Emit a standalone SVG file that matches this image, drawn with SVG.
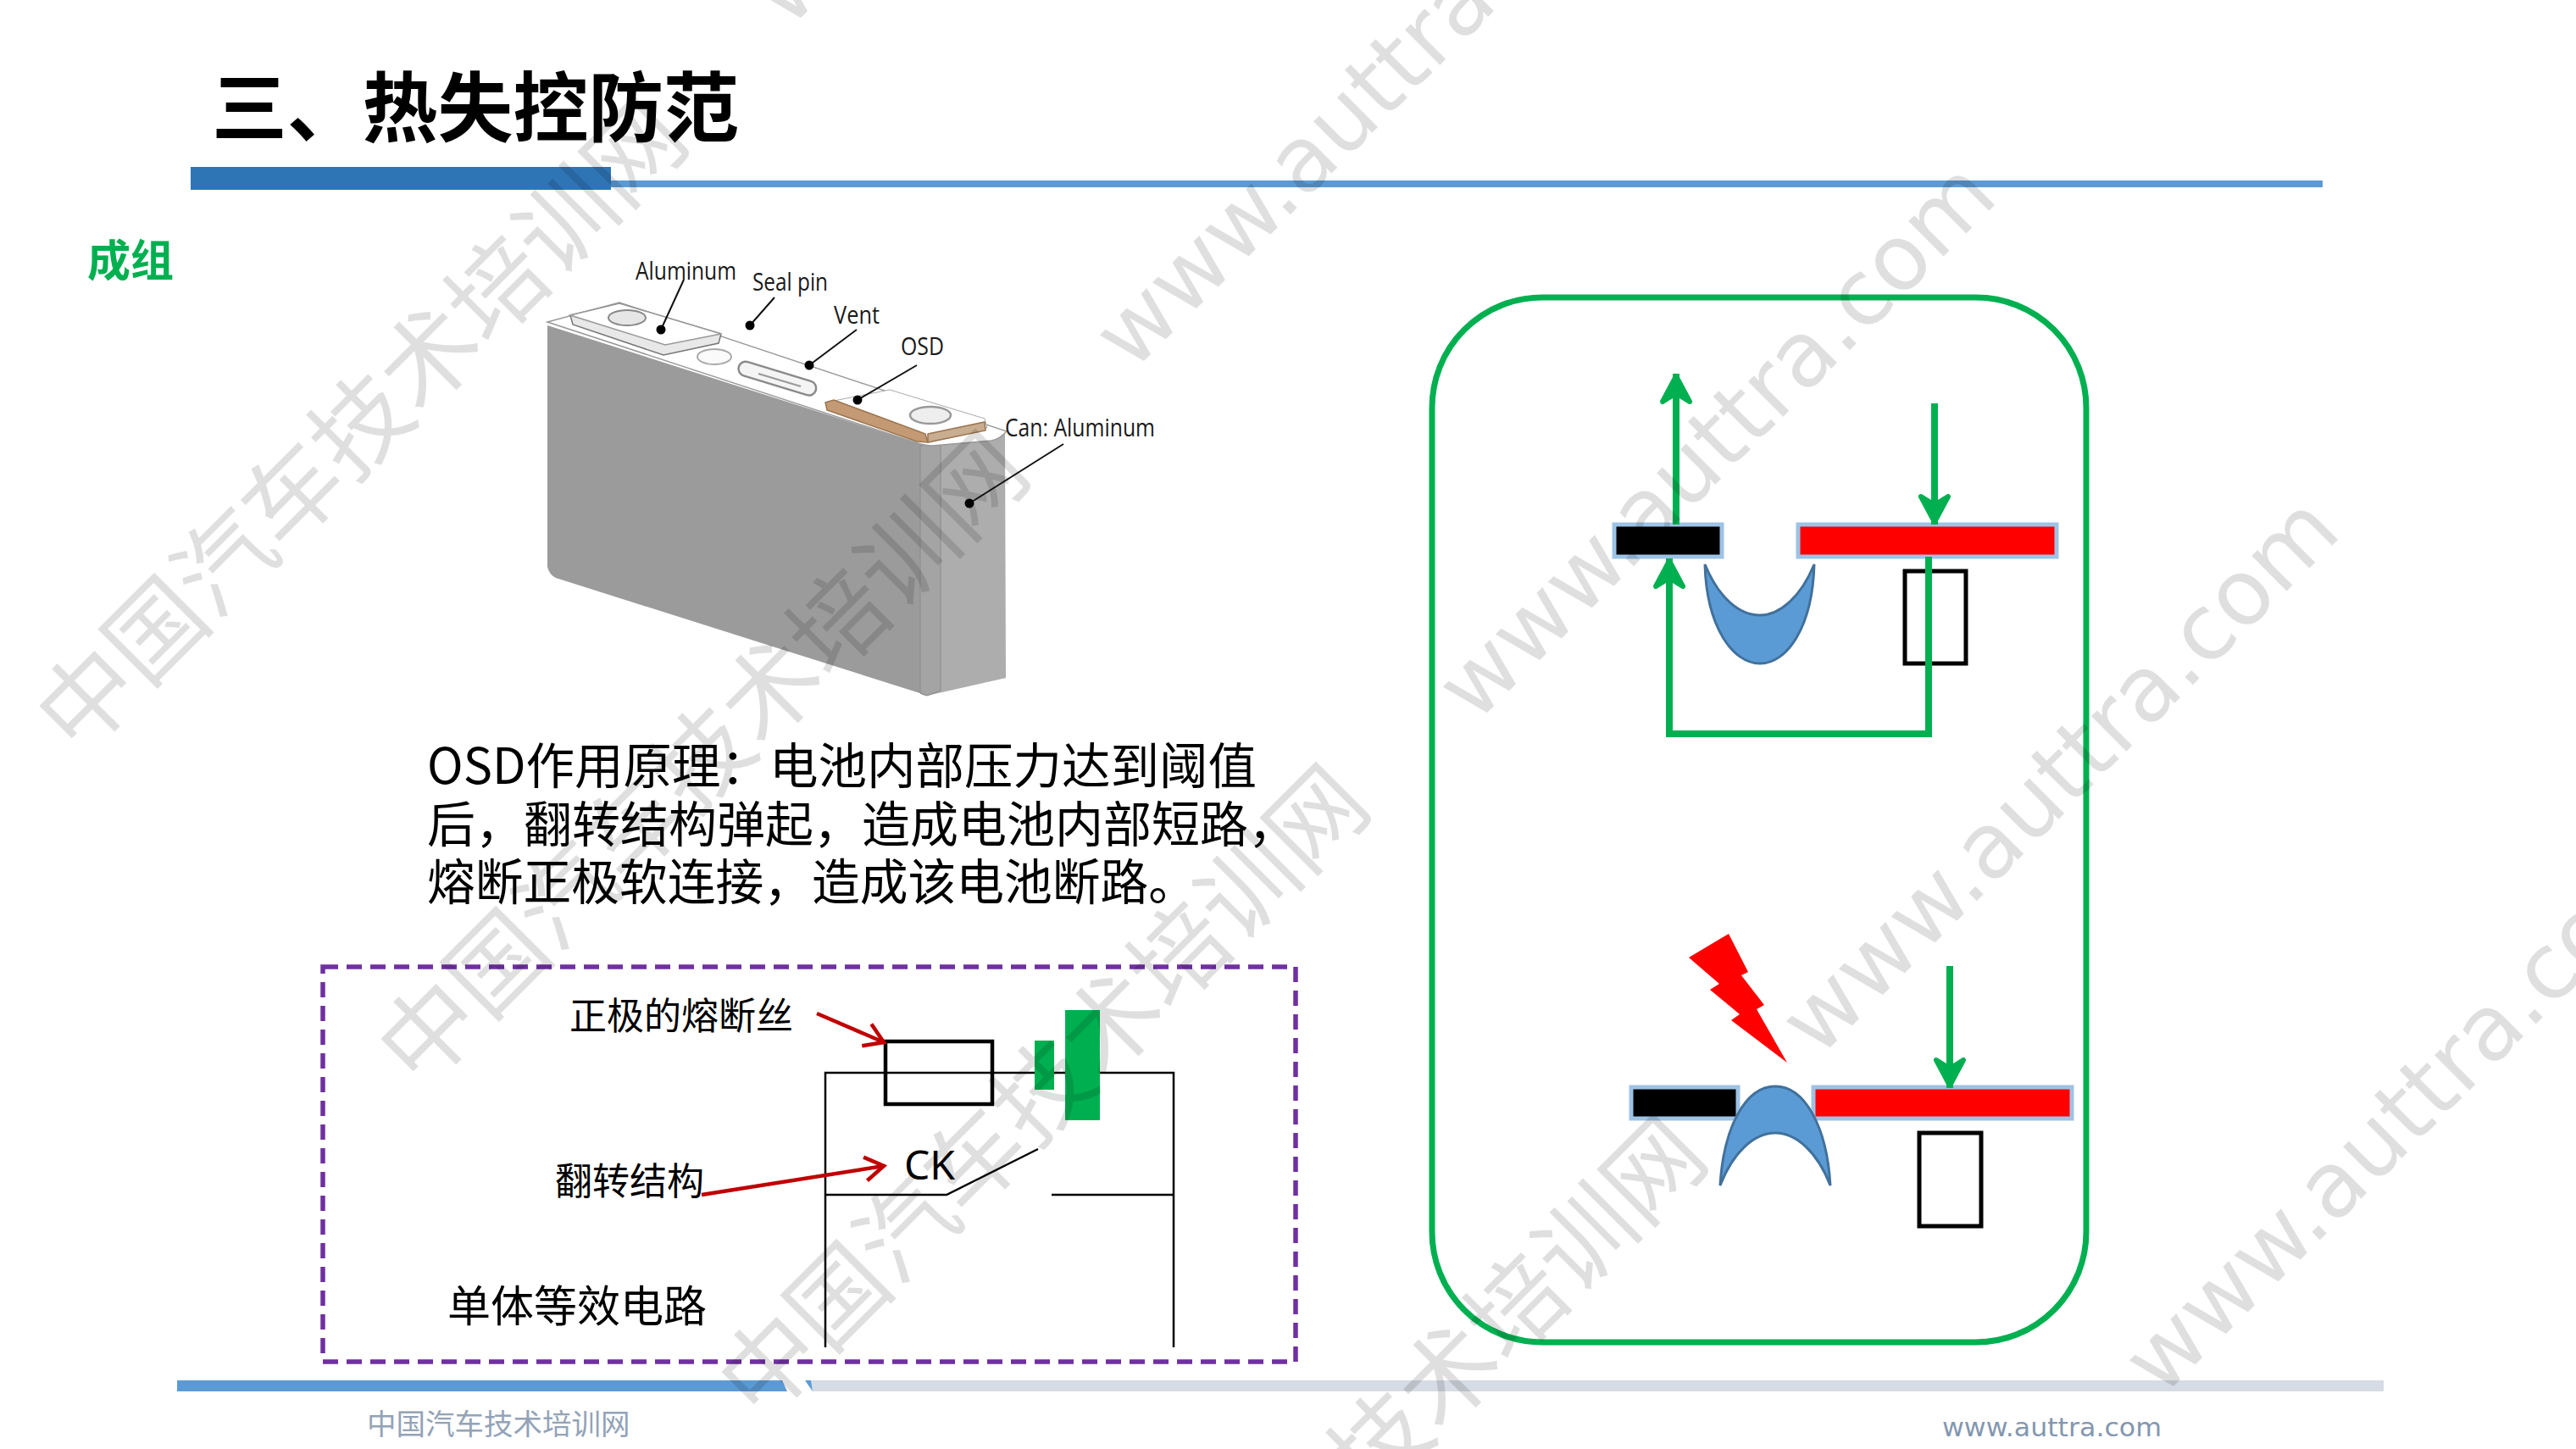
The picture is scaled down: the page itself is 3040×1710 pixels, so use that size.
<svg xmlns="http://www.w3.org/2000/svg" width="3040" height="1710" viewBox="0 0 3040 1710">
<defs>
<style>
.cjk{font-family:"Noto Sans CJK SC","Noto Sans",sans-serif}
.lat{font-family:"Noto Sans","Liberation Sans",sans-serif}
.cell{font-family:"Open Sans","Noto Sans",sans-serif;font-size:30px;fill:#1a1a1a}
.wire{fill:none;stroke:#000;stroke-width:2.5}
.lead{fill:none;stroke:#111;stroke-width:2}
.g{fill:none;stroke:#00b050;stroke-width:8}
.r{fill:none;stroke:#c00000;stroke-width:4.5}
.bar{stroke:#9dc3e6;stroke-width:5}
.cres{fill:#5b9bd5;stroke:#41719c;stroke-width:3}
.box{fill:none;stroke:#000;stroke-width:5}
.wmc{font-family:"Noto Sans CJK SC",sans-serif;font-size:114px;fill:#000;opacity:.12}
.wmw{font-family:"DejaVu Sans",sans-serif;font-size:107px;fill:#000;opacity:.12}
</style>
<marker id="ga" markerUnits="userSpaceOnUse" markerWidth="50" markerHeight="50" refX="41" refY="25" orient="auto"><path d="M8,9 L38,25 L8,41 L18,25Z" fill="#00b050" stroke="#00b050" stroke-width="6" stroke-linejoin="round"/></marker>
<marker id="ra" markerUnits="userSpaceOnUse" markerWidth="40" markerHeight="40" refX="34" refY="20" orient="auto"><path d="M12,6 L34,20 L12,34" fill="none" stroke="#c00000" stroke-width="4.5"/></marker>
</defs>
<rect width="3040" height="1710" fill="#fff"/>
<g id="header">
<rect x="721" y="213" width="2020" height="8" fill="#5b9bd5"/>
<rect x="225" y="197" width="496" height="27" fill="#2e75b6"/>
<text class="cjk" x="250" y="160" font-size="90" font-weight="700" textLength="622" lengthAdjust="spacingAndGlyphs">三、热失控防范</text>
</g>
<text id="section" class="cjk" x="103" y="326" font-size="51" font-weight="700" fill="#00b050">成组</text>
<g id="battery">
<path d="M646,384 L646,669 Q648,678 656,682 L1092,820 L1092,526Z" fill="#9b9b9b"/>
<path d="M1086,526 L1186,512 L1187,800 L1094,821 Q1086,820 1086,818Z" fill="#adadad"/>
<path d="M1086,526 L1110,522 L1110,815 L1094,821 L1086,818Z" fill="#a4a4a4" stroke="#8a8a8a" stroke-width="1"/>
<path d="M646,380 L731,357 L1188,509 Q1180,518 1170,520 L1100,526 Q1092,526 1080,522Z" fill="#fff" stroke="#9a9a9a" stroke-width="1.5"/>
<path d="M673,372 L731,358 L851,394 L848,405 L783,419 L676,383Z" fill="#e8e8e8" stroke="#777" stroke-width="1.5"/>
<path d="M673,372 L731,358 L851,394 L785,407Z" fill="#fff" stroke="#999" stroke-width="1.5"/>
<ellipse cx="740" cy="375" rx="22" ry="9" fill="#e6e6e6" stroke="#888" stroke-width="2"/>
<ellipse cx="843" cy="421" rx="20" ry="9" fill="#fafafa" stroke="#aaa" stroke-width="2"/>
<rect x="870" y="438" width="95" height="17" rx="8.5" transform="rotate(17 917 446)" fill="#f4f4f4" stroke="#8a8a8a" stroke-width="2.5"/>
<path d="M895,441 L945,456" fill="none" stroke="#999" stroke-width="2"/>
<path d="M984,473 L1050,460 L1162,494 L1165,505 L1095,518 L985,485Z" fill="#fff" stroke="#aaa" stroke-width="1"/>
<path d="M974,475 L984,472 L1092,512 L1095,522 L1082,521 L976,484Z" fill="#c49a74" stroke="#9a7550" stroke-width="1.5"/>
<path d="M1095,512 L1162,498 L1163,508 L1095,522Z" fill="#c8ad90" stroke="#9a7550" stroke-width="1.5"/>
<ellipse cx="1098" cy="490" rx="24" ry="10" fill="#eee" stroke="#999" stroke-width="2.5"/>
<g class="lead">
<path d="M807,330 L780,389M914,351 L885,384M1011,389 L955,431M1082,431 L1012,472M1255,524 L1144,594"/>
</g>
<g fill="#000"><circle cx="780" cy="389" r="5.5"/><circle cx="885" cy="384" r="5.5"/><circle cx="955" cy="431" r="5.5"/><circle cx="1012" cy="472" r="5.5"/><circle cx="1144" cy="594" r="5.5"/></g>
<text class="cell" x="750" y="330" textLength="119" lengthAdjust="spacingAndGlyphs">Aluminum</text>
<text class="cell" x="888" y="343" textLength="89" lengthAdjust="spacingAndGlyphs">Seal pin</text>
<text class="cell" x="984" y="382" textLength="54" lengthAdjust="spacingAndGlyphs">Vent</text>
<text class="cell" x="1063" y="419" textLength="51" lengthAdjust="spacingAndGlyphs">OSD</text>
<text class="cell" x="1186" y="515" textLength="177" lengthAdjust="spacingAndGlyphs">Can: Aluminum</text>
</g>
<g id="description" class="cjk" font-size="58" fill="#000">
<text x="504" y="925" textLength="979" lengthAdjust="spacingAndGlyphs">OSD作用原理：电池内部压力达到阈值</text>
<text x="504" y="994" textLength="1026" lengthAdjust="spacingAndGlyphs">后，翻转结构弹起，造成电池内部短路，</text>
<text x="504" y="1062" textLength="908" lengthAdjust="spacingAndGlyphs">熔断正极软连接，造成该电池断路。</text>
</g>
<g id="circuit">
<rect x="381" y="1141" width="1148" height="466" fill="none" stroke="#7030a0" stroke-width="5.5" stroke-dasharray="18 10"/>
<path class="wire" d="M974,1590 V1266 H1385 V1590M974,1410 H1117 L1225,1356M1241,1410 H1385"/>
<rect class="box" x="1045" y="1229" width="126" height="74" style="stroke-width:4.5"/>
<rect x="1221" y="1228" width="23" height="58" fill="#00b050"/>
<rect x="1257" y="1192" width="41" height="130" fill="#00b050"/>
<text class="lat" x="1067" y="1392" font-size="48" fill="#000">CK</text>
<text class="cjk" x="672" y="1215" font-size="44" fill="#000">正极的熔断丝</text>
<text class="cjk" x="655" y="1410" font-size="44" fill="#000">翻转结构</text>
<text class="cjk" x="528" y="1560" font-size="51" fill="#000">单体等效电路</text>
</g>
<g id="osd-box">
<rect x="1690" y="351" width="772" height="1233" rx="130" fill="none" stroke="#00b050" stroke-width="7"/>
</g>
<g id="osd-before">
<rect class="bar" x="1905" y="619" width="127" height="38" fill="#000"/>
<rect class="bar" x="2122" y="619" width="305" height="38" fill="#f00"/>
<path class="cres" d="M2012,666 C2014,740 2045,783 2077,783 C2109,783 2139,740 2141,666 C2125,705 2100,726 2077,726 C2052,726 2028,705 2012,666Z"/>
<rect class="box" x="2248" y="674" width="72" height="109"/>
</g>
<g id="osd-after">
<rect class="bar" x="1925" y="1283" width="126" height="37" fill="#000"/>
<rect class="bar" x="2140" y="1283" width="305" height="37" fill="#f00"/>
<path class="cres" d="M2030,1399 C2034,1330 2060,1282 2095,1282 C2130,1282 2156,1330 2160,1399 C2145,1360 2120,1337 2095,1337 C2070,1337 2045,1360 2030,1399Z"/>
<rect class="box" x="2265" y="1337" width="73" height="110"/>
<path id="spark" fill="#f00" d="M2040,1102 L2063,1147 L2055,1151 L2082,1186 L2073,1191 L2109,1254 L2043,1204 L2053,1197 L2018,1168 L2029,1161 L1993,1130Z"/>
</g>
<g id="connectors">
<path class="g" d="M1978,619 V441" marker-end="url(#ga)"/>
<path class="g" d="M2283,476 V619" marker-end="url(#ga)"/>
<path class="g" d="M2276,657 V866 H1970 V659" marker-end="url(#ga)"/>
<path class="g" d="M2301,1140 V1284" marker-end="url(#ga)"/>
<path class="r" d="M964,1196 L1043,1230" marker-end="url(#ra)"/>
<path class="r" d="M828,1410 L1043,1376" marker-end="url(#ra)"/>
</g>
<g id="footer">
<path d="M209,1629 H923 L929,1642 H209Z" fill="#5b9bd5"/>
<path d="M957,1629 H2813 V1642 H959Z" fill="#d6dce5"/>
<path d="M950,1629 H957 L959,1642Z" fill="#5b9bd5"/>
<text class="cjk" x="433" y="1693" font-size="34.5" fill="#93a3b8">中国汽车技术培训网</text>
<text x="2292" y="1695" font-family="DejaVu Sans,sans-serif" font-size="31" fill="#8497b0" textLength="259" lengthAdjust="spacingAndGlyphs">www.auttra.com</text>
</g>
<g id="watermarks">
<text class="wmc" transform="translate(92,894) rotate(-45)">中国汽车技术培训网</text>
<text class="wmc" transform="translate(495,1287) rotate(-45)">中国汽车技术培训网</text>
<text class="wmc" transform="translate(897,1680) rotate(-45)">中国汽车技术培训网</text>
<text class="wmc" transform="translate(1295,2095) rotate(-45)">中国汽车技术培训网</text>
<text class="wmw" transform="translate(931,35) rotate(-45)">www.auttra.com</text>
<text class="wmw" transform="translate(1336,440) rotate(-45)">www.auttra.com</text>
<text class="wmw" transform="translate(1741,855) rotate(-45)">www.auttra.com</text>
<text class="wmw" transform="translate(2146,1250) rotate(-45)">www.auttra.com</text>
<text class="wmw" transform="translate(2551,1650) rotate(-45)">www.auttra.com</text>
</g>
</svg>
